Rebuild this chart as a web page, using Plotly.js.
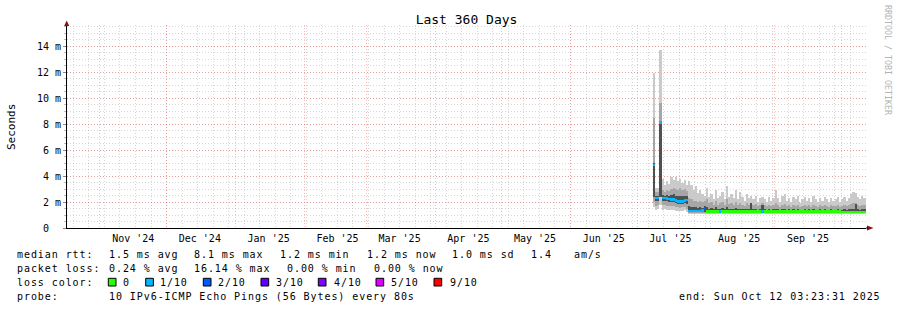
<!DOCTYPE html>
<html>
<head>
<meta charset="utf-8">
<script src="https://cdn.plot.ly/plotly-3.0.1.min.js"></script>
<style>
html,body{margin:0;padding:0;background:#fff;}
#chart{width:897px;height:310px;}
</style>
</head>
<body>
<div id="chart"></div>
<script>
// ---------------- DATA ----------------
const rangeStart = '2024-10-17 03:23:31';
const rangeEnd   = '2025-10-12 03:23:31';

const monthStarts = ['2024-11-01','2024-12-01','2025-01-01','2025-02-01','2025-03-01','2025-04-01',
  '2025-05-01','2025-06-01','2025-07-01','2025-08-01','2025-09-01','2025-10-01'];
const monthLabelDates = ['2024-11-16','2024-12-16','2025-01-16','2025-02-16','2025-03-16','2025-04-16',
  '2025-05-16','2025-06-16','2025-07-16','2025-08-16','2025-09-16'];
const monthLabels = ["Nov '24","Dec '24","Jan '25","Feb '25","Mar '25","Apr '25",
  "May '25","Jun '25","Jul '25","Aug '25","Sep '25"];

const yTickVals = [0,2,4,6,8,10,12,14];
const yTickText = ['0\u00a0\u00a0','2 m','4 m','6 m','8 m','10 m','12 m','14 m'];

const days = [
 '2025-07-08','2025-07-09','2025-07-10','2025-07-11','2025-07-12','2025-07-13','2025-07-14','2025-07-15',
 '2025-07-16','2025-07-17','2025-07-18','2025-07-19','2025-07-20','2025-07-21','2025-07-22','2025-07-23',
 '2025-07-24','2025-07-25','2025-07-26','2025-07-27','2025-07-28','2025-07-29','2025-07-30','2025-07-31',
 '2025-08-01','2025-08-02','2025-08-03','2025-08-04','2025-08-05','2025-08-06','2025-08-07','2025-08-08',
 '2025-08-09','2025-08-10','2025-08-11','2025-08-12','2025-08-13','2025-08-14','2025-08-15','2025-08-16',
 '2025-08-17','2025-08-18','2025-08-19','2025-08-20','2025-08-21','2025-08-22','2025-08-23','2025-08-24',
 '2025-08-25','2025-08-26','2025-08-27','2025-08-28','2025-08-29','2025-08-30','2025-08-31',
 '2025-09-01','2025-09-02','2025-09-03','2025-09-04','2025-09-05','2025-09-06','2025-09-07','2025-09-08',
 '2025-09-09','2025-09-10','2025-09-11','2025-09-12','2025-09-13','2025-09-14','2025-09-15','2025-09-16',
 '2025-09-17','2025-09-18','2025-09-19','2025-09-20','2025-09-21','2025-09-22','2025-09-23','2025-09-24',
 '2025-09-25','2025-09-26','2025-09-27','2025-09-28','2025-09-29','2025-09-30',
 '2025-10-01','2025-10-02','2025-10-03','2025-10-04','2025-10-05','2025-10-06','2025-10-07','2025-10-08',
 '2025-10-09','2025-10-10','2025-10-11','2025-10-12'
];

// median rtt (ms)
const median = [
 4.85,2.30,2.30,8.10,2.30,2.30,2.28,2.22, 2.20,2.20,2.10,2.05,2.03,2.05,2.12,2.15,
 1.30,1.30,1.32,1.32,1.30,1.30,1.35,1.50,
 1.28,1.28,1.28,1.28,1.28,1.28,1.28,1.28, 1.28,1.28,1.28,1.28,1.28,1.28,1.28,1.28,
 1.28,1.28,1.28,1.28,1.27,1.27,1.27,1.27, 1.27,1.27,1.27,1.27,1.27,1.27,1.27,
 1.25,1.25,1.25,1.25,1.25,1.25,1.25,1.25, 1.25,1.25,1.25,1.25,1.25,1.25,1.25,1.25,
 1.25,1.25,1.25,1.25,1.25,1.25,1.25,1.25, 1.25,1.25,1.25,1.25,1.25,1.25,
 1.23,1.23,1.23,1.23,1.23,1.23,1.23,1.23, 1.23,1.23,1.23,1.23
];
// lost pings out of 10
const loss = [
 1,1,1,1,1,1,1,1, 1,1,1,1,1,1,1,1, 1,1,1,1,1,1,1,2,
 0,0,0,0,0,0,1,0, 0,0,0,0,0,0,0,0, 0,0,0,0,0,0,0,0, 0,1,0,0,0,0,0,
 0,0,0,0,0,0,0,0, 0,0,0,0,0,0,0,0, 0,0,0,0,0,0,0,0, 0,0,0,0,0,0,
 0,0,0,0,0,0,0,0, 0,0,0,0
];
// smoke: outer band (min .. max)
const smokeLo = [
 1.60,1.40,1.45,1.80,1.40,1.45,1.40,1.40, 1.35,1.40,1.30,1.30,1.30,1.30,1.35,1.20,
 1.05,1.05,1.05,1.05,1.05,1.05,1.05,1.10,
 1.10,1.10,1.10,1.10,1.10,1.10,1.10,1.10, 1.10,1.10,1.10,1.10,1.10,1.10,1.10,1.10,
 1.10,1.10,1.10,1.10,1.10,1.10,1.10,1.10, 1.10,1.10,1.10,1.10,1.10,1.10,1.10,
 1.10,1.10,1.10,1.10,1.10,1.10,1.10,1.10, 1.10,1.10,1.10,1.10,1.10,1.10,1.10,1.10,
 1.10,1.10,1.10,1.10,1.10,1.10,1.10,1.10, 1.10,1.10,1.10,1.10,1.10,1.10,
 1.08,1.08,1.08,1.08,1.08,1.08,1.08,1.08, 1.08,1.08,1.08,1.08
];
const smokeHi = [
 11.9,3.05,3.10,13.7,3.80,3.30,3.60,3.40, 3.90,3.70,3.95,3.60,3.80,3.50,3.70,3.30,
 3.60,3.30,2.90,3.20,2.70,2.90,2.60,2.50,
 3.10,2.40,2.60,2.20,2.90,2.30,2.50,2.80, 2.20,3.20,2.40,2.60,2.30,2.90,2.20,2.80,
 2.40,2.10,2.60,2.30,2.50,2.20,2.50,2.00, 2.30,2.40,2.20,2.00,2.40,2.10,2.30,
 2.90,2.30,2.00,2.50,2.60,2.10,2.30,2.00, 2.40,2.20,2.50,1.90,2.20,2.40,2.10,2.30,
 2.00,2.50,2.20,2.00,2.30,2.10,2.40,2.20, 2.00,2.30,2.10,2.20,2.40,2.00,
 2.20,2.40,2.10,2.30,2.60,2.80,2.70,2.40, 2.20,2.50,2.30,2.00
];
// smoke: middle band
const midLo = [
 2.00,1.70,1.75,2.40,1.75,1.75,1.70,1.70, 1.70,1.70,1.60,1.60,1.55,1.60,1.60,1.50,
 1.12,1.12,1.12,1.12,1.12,1.12,1.12,1.15,
 1.15,1.15,1.15,1.15,1.15,1.15,1.15,1.15, 1.15,1.15,1.15,1.15,1.15,1.15,1.15,1.15,
 1.15,1.15,1.15,1.15,1.15,1.15,1.15,1.15, 1.15,1.15,1.15,1.15,1.15,1.15,1.15,
 1.15,1.15,1.15,1.15,1.15,1.15,1.15,1.15, 1.15,1.15,1.15,1.15,1.15,1.15,1.15,1.15,
 1.15,1.15,1.15,1.15,1.15,1.15,1.15,1.15, 1.15,1.15,1.15,1.15,1.15,1.15,
 1.12,1.12,1.12,1.12,1.12,1.12,1.12,1.12, 1.12,1.12,1.12,1.12
];
const midHi = [
 8.50,2.75,2.80,9.60,2.90,2.80,2.90,2.85, 3.00,3.10,3.00,2.95,3.10,2.90,3.00,2.85,
 2.30,2.20,2.10,2.10,2.00,2.10,2.00,2.10,
 2.20,1.90,2.00,1.80,2.10,1.80,1.90,2.00, 1.75,2.20,1.85,1.90,1.80,2.00,1.75,1.95,
 1.80,1.70,1.90,1.80,1.95,1.75,1.85,1.70, 1.80,1.90,1.75,1.70,1.80,1.70,1.75,
 1.90,1.75,1.65,1.80,1.85,1.70,1.75,1.65, 1.80,1.70,1.80,1.60,1.70,1.75,1.70,1.75,
 1.65,1.80,1.70,1.65,1.75,1.70,1.80,1.70, 1.65,1.75,1.70,1.70,1.80,1.65,
 1.70,1.75,1.70,1.75,1.85,1.90,1.95,1.80, 1.70,1.80,1.75,1.65
];
// smoke: inner band (around the median)
const innerLo = [
 2.40,2.10,2.10,2.40,2.10,2.10,2.05,2.00, 2.00,2.00,1.90,1.85,1.85,1.85,1.90,1.85,
 1.20,1.20,1.20,1.20,1.20,1.20,1.20,1.25,
 1.20,1.20,1.20,1.20,1.20,1.20,1.20,1.20, 1.20,1.20,1.20,1.20,1.20,1.20,1.20,1.20,
 1.20,1.20,1.20,1.20,1.20,1.20,1.20,1.20, 1.20,1.20,1.20,1.20,1.20,1.20,1.20,
 1.18,1.18,1.18,1.18,1.18,1.18,1.18,1.18, 1.18,1.18,1.18,1.18,1.18,1.18,1.18,1.18,
 1.18,1.18,1.18,1.18,1.18,1.18,1.18,1.18, 1.18,1.18,1.18,1.18,1.18,1.18,
 1.16,1.16,1.16,1.16,1.16,1.16,1.16,1.16, 1.16,1.16,1.16,1.16
];
const innerHi = [
 5.00,2.50,2.50,8.20,2.55,2.50,2.55,2.50, 2.55,2.60,2.50,2.45,2.50,2.45,2.50,2.45,
 1.70,1.65,1.60,1.60,1.55,1.60,1.55,1.70,
 1.60,1.50,1.55,1.50,1.60,1.45,1.50,1.55, 1.45,1.60,1.50,1.50,1.45,1.55,1.45,1.50,
 1.50,1.45,1.50,1.45,1.90,1.45,1.50,1.40, 1.45,1.80,1.45,1.40,1.45,1.40,1.45,
 1.50,1.45,1.40,1.45,1.50,1.40,1.45,1.40, 1.45,1.40,1.45,1.40,1.40,1.45,1.40,1.45,
 1.40,1.45,1.40,1.40,1.45,1.40,1.45,1.40, 1.40,1.45,1.40,1.40,1.45,1.40,
 1.40,1.45,1.40,1.45,1.50,1.50,1.85,1.45, 1.40,1.45,1.45,1.40
];

const lossColors = {0:'#26ff00',1:'#00b8ff',2:'#0059ff',3:'#5e00ff',4:'#7e00ff',5:'#dd00ff',9:'#ff0000'};
const lossLegend = [[0,'0'],[1,'1/10'],[2,'2/10'],[3,'3/10'],[4,'4/10'],[5,'5/10'],[9,'9/10']];

// ---------------- LAYOUT HELPERS ----------------
const W = 897, H = 310;
const PL = 67, PR = 866, PT = 25, PB = 228;
const DAY = 86400000;
const px = x => (x - PL) / (PR - PL);
const py = y => (PB - y) / (PB - PT);

function band(lo, hi, color) {
  return {
    type: 'bar', x: days, base: lo, y: hi.map((h, i) => h - lo[i]),
    width: days.map(() => DAY), offset: 0,
    marker: {color: color, line: {width: 0}},
    hoverinfo: 'skip', showlegend: false
  };
}

const traces = [
  band(smokeLo, smokeHi, '#cacaca'),
  band(midLo, midHi, '#a6a6a6'),
  band(innerLo, innerHi, '#505050'),
  {
    type: 'bar', x: days, base: median.map(v => v - 0.1), y: median.map(() => 0.2),
    width: days.map(() => DAY), offset: 0,
    marker: {color: loss.map(l => lossColors[l]), line: {width: 0}},
    hoverinfo: 'skip', showlegend: false
  },
  {type: 'scatter', x: [], y: [], xaxis: 'x2', showlegend: false, hoverinfo: 'skip'}
];

const mono = 'DejaVu Sans Mono, monospace';
const txtFont = {family: mono, size: 10, color: '#000'};
const annotations = [];
function txt(x, y, s, extra) {
  annotations.push(Object.assign({
    xref: 'paper', yref: 'paper', x: px(x), y: py(y), text: s,
    xanchor: 'left', yanchor: 'middle', align: 'left', showarrow: false,
    borderpad: 0, font: txtFont
  }, extra || {}));
}
// legend lines
const L1 = 254.7, L2 = 268.5, L3 = 282.3, L4 = 296.2;
txt(16, L1, 'median rtt:');
txt(107.7, L1, '1.5 ms avg');
txt(193.3, L1, '8.1 ms max');
txt(279.3, L1, '1.2 ms min');
txt(366, L1, '1.2 ms now');
txt(451, L1, '1.0 ms sd');
txt(530, L1, '1.4');
txt(572.7, L1, 'am/s');
txt(16, L2, 'packet loss:');
txt(107.7, L2, '0.24 % avg');
txt(193.3, L2, '16.14 % max');
txt(286, L2, '0.00 % min');
txt(372.7, L2, '0.00 % now');
txt(16, L3, 'loss color:');
const boxX = [108.3, 145.7, 203.3, 261, 318.3, 376, 434];
const labX = [121.7, 159.3, 217.3, 275.3, 332.7, 390, 448.5];
lossLegend.forEach((d, i) => txt(labX[i], L3, d[1]));
txt(16, L4, 'probe:');
txt(107.7, L4, '10 IPv6-ICMP Echo Pings (56 Bytes) every 80s');
txt(678.3, L4, 'end: Sun Oct 12 03:23:31 2025');
const nSpaced = annotations.length;
// y axis title
annotations.push({xref: 'paper', yref: 'paper', x: px(11), y: py(127), text: 'Seconds',
  textangle: -90, showarrow: false, xanchor: 'center', yanchor: 'middle', borderpad: 0,
  font: {family: mono, size: 11, color: '#000'}});
// rrdtool credit
annotations.push({xref: 'paper', yref: 'paper', x: px(888), y: py(60), text: 'RRDTOOL / TOBI OETIKER',
  textangle: 90, showarrow: false, xanchor: 'center', yanchor: 'middle', borderpad: 0,
  font: {family: mono, size: 8.3, color: '#b4b4b4'}});

const shapes = [];
boxX.forEach((bx, i) => shapes.push({
  type: 'rect', xref: 'paper', yref: 'paper', x0: px(bx), x1: px(bx + 7.7), y0: py(278.3), y1: py(286),
  fillcolor: lossColors[lossLegend[i][0]], line: {color: '#000', width: 1}
}));
const arrowColor = '#8b1010';
shapes.push({type: 'path', xref: 'paper', yref: 'paper',
  path: `M ${px(867)} ${py(225.5)} L ${px(873.5)} ${py(228)} L ${px(867)} ${py(230.5)} Z`,
  fillcolor: arrowColor, line: {width: 0}});
shapes.push({type: 'path', xref: 'paper', yref: 'paper',
  path: `M ${px(64.2)} ${py(26)} L ${px(66.7)} ${py(20.5)} L ${px(69.2)} ${py(26)} Z`,
  fillcolor: arrowColor, line: {width: 0}});
shapes.push({type: 'line', xref: 'paper', yref: 'paper', x0: px(866), x1: px(868), y0: py(228), y1: py(228),
  line: {color: '#000', width: 1}});

const gridRed = 'rgba(255,0,0,0.27)';
const gridGray = 'rgba(150,150,150,0.38)';
const dots = '1px,2px';

const layout = {
  width: W, height: H,
  margin: {l: PL, r: W - PR, t: PT, b: H - PB, pad: 0},
  paper_bgcolor: '#fff', plot_bgcolor: '#fff',
  barmode: 'overlay', bargap: 0,
  showlegend: false,
  title: {text: 'Last 360 Days', x: 0.5, xref: 'paper', y: 1 - 19.5 / H, yref: 'container',
    xanchor: 'center', yanchor: 'middle', font: {family: mono, size: 13, color: '#000'}},
  xaxis: {
    type: 'date', range: [rangeStart, rangeEnd], fixedrange: true,
    tickmode: 'array', tickvals: monthLabelDates, ticktext: monthLabels,
    showgrid: false, ticks: '', zeroline: false,
    showline: true, linecolor: '#000', linewidth: 1, layer: 'above traces',
    tickfont: txtFont, ticklabelstandoff: 1,
    minor: {tickmode: 'linear', tick0: '2024-10-20', dtick: 7 * DAY, showgrid: true,
      gridcolor: gridGray, griddash: dots, gridwidth: 1, ticks: ''}
  },
  xaxis2: {
    type: 'date', overlaying: 'x', matches: 'x', range: [rangeStart, rangeEnd], fixedrange: true,
    tickmode: 'array', tickvals: monthStarts, showticklabels: false, ticks: '',
    showgrid: true, gridcolor: gridRed, griddash: dots, gridwidth: 1,
    showline: false, zeroline: false
  },
  yaxis: {
    range: [0, (PB - PT) / 13], fixedrange: true,
    tickmode: 'array', tickvals: yTickVals, ticktext: yTickText,
    showgrid: true, gridcolor: gridRed, griddash: dots, gridwidth: 1,
    ticks: 'outside', ticklen: 3, tickcolor: '#888', tickwidth: 1,
    showline: true, linecolor: '#000', linewidth: 1, layer: 'above traces',
    zeroline: false, tickfont: txtFont,
    minor: {tickmode: 'linear', tick0: 0, dtick: 0.5, showgrid: true, gridcolor: gridGray,
      griddash: dots, gridwidth: 1, ticks: 'outside', ticklen: 2, tickcolor: '#bbb'}
  },
  annotations: annotations,
  shapes: shapes
};

Plotly.newPlot('chart', traces, layout, {displayModeBar: false, staticPlot: true}).then(() => {
  document.querySelectorAll('g.annotation').forEach(g => {
    const idx = +g.getAttribute('data-index');
    if (idx < nSpaced) {
      const t = g.querySelector('text');
      if (t) t.style.letterSpacing = '0.93px';
    }
  });
});
</script>
</body>
</html>
